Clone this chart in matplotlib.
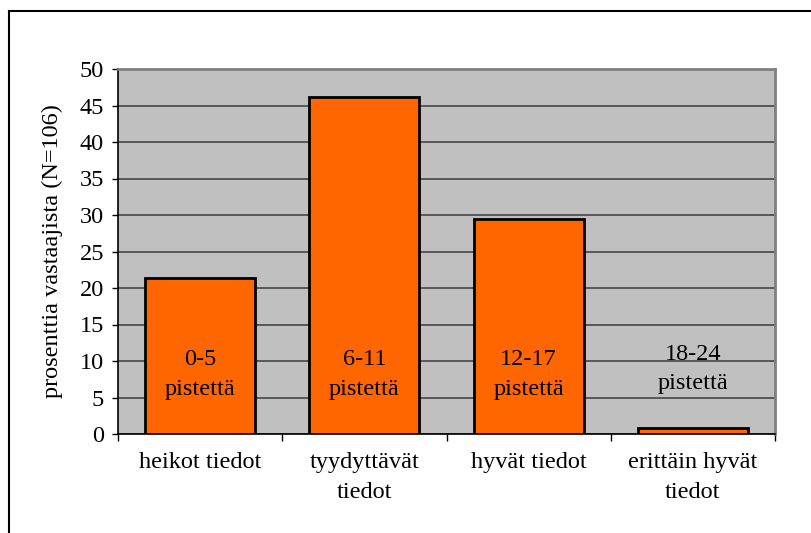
import matplotlib
matplotlib.use("Agg")
import matplotlib.pyplot as plt
from matplotlib.lines import Line2D
import numpy as np

categories = ["heikot tiedot", "tyydyttävät\ntiedot", "hyvät tiedot", "erittäin hyvät\ntiedot"]
values = [21.4, 46.2, 29.5, 0.8]
bar_labels = ["0-5\npistettä", "6-11\npistettä", "12-17\npistettä", "18-24\npistettä"]
label_y = [8.2, 8.2, 8.2, 8.9]
yticks = [0, 5, 10, 15, 20, 25, 30, 35, 40, 45, 50]
ylabel = "prosenttia vastaajista (N=106)"

plt.rcParams['font.family'] = ['Liberation Serif', 'DejaVu Serif']
FS = 17.5

W, H = 811, 533
fig = plt.figure(figsize=(W/100, H/100), dpi=100)
ax = fig.add_axes([118/W, 1-434/H, (775-118)/W, (434-69)/H])
ax.set_facecolor("#C0C0C0")

x = np.arange(len(categories))
ax.bar(x, values, width=0.67, color="#FF6600", edgecolor="black", linewidth=2, zorder=3)
for xi, lab, ly in zip(x, bar_labels, label_y):
    ax.text(xi, ly, lab, ha="center", va="center", fontsize=FS, linespacing=1.55, zorder=4)

ax.set_xlim(-0.5, len(categories) - 0.5)
ax.set_ylim(0, 50)
ax.set_yticks(yticks)
ax.yaxis.grid(True, color="#505050", linewidth=1.3, zorder=1)
ax.set_axisbelow(True)
ax.tick_params(axis="y", direction="out", length=4, width=1, labelsize=FS, pad=6)

ax.set_xticks(x)
ax.set_xticklabels(categories, fontsize=FS, linespacing=1.55)
ax.tick_params(axis="x", which="major", length=0, pad=13)
ax.set_xticks(np.arange(-0.5, len(categories), 1.0), minor=True)
ax.tick_params(axis="x", which="minor", direction="out", length=5, width=1)

for s in ["left", "bottom"]:
    ax.spines[s].set_color("black")
    ax.spines[s].set_linewidth(1.2)
for s in ["top", "right"]:
    ax.spines[s].set_color("#808080")
    ax.spines[s].set_linewidth(2)

ax.set_ylabel(ylabel, fontsize=FS, labelpad=12)

# outer chart frame
fig.add_artist(Line2D([9/W, 9/W], [0, 1-11/H], color="black", linewidth=1.5, transform=fig.transFigure))
fig.add_artist(Line2D([9/W, 1], [1-11/H, 1-11/H], color="black", linewidth=1.5, transform=fig.transFigure))

fig.savefig("out.png", dpi=100)
